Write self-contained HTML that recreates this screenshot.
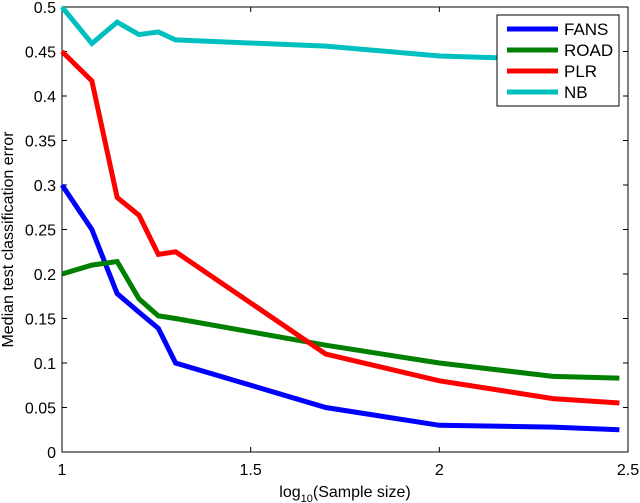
<!DOCTYPE html>
<html><head><meta charset="utf-8"><style>
body{margin:0;background:#fff;}
svg{display:block;font-family:"Liberation Sans",sans-serif;}
</style></head><body>
<svg id="chart" width="640" height="503"></svg>
<script>
const xs=[10,12,14,16,18,20,50,100,200,300];
const fans=[0.3,0.25,0.178,0.157,0.139,0.1,0.05,0.03,0.028,0.025];
const road=[0.2,0.21,0.214,0.172,0.153,0.15,0.12,0.1,0.085,0.083];
const plr=[0.45,0.417,0.286,0.266,0.222,0.225,0.11,0.08,0.06,0.055];
const nb=[0.5,0.459,0.483,0.469,0.472,0.463,0.456,0.445,0.441,0.438];
const xTicks=[1,1.5,2,2.5];
const yTicks=[0,0.05,0.1,0.15,0.2,0.25,0.3,0.35,0.4,0.45,0.5];
const seriesNames=["FANS","ROAD","PLR","NB"];
const seriesColors=["#0000ff","#008000","#ff0000","#00bfbf"];
const L=62,R=628,T=7,B=452;
const X=v=>L+(v-1)/1.5*(R-L);
const Y=v=>B-v/0.5*(B-T);
const svg=document.getElementById('chart');
const NS='http://www.w3.org/2000/svg';
function mk(t,a,p){const e=document.createElementNS(NS,t);for(const k in a)e.setAttribute(k,a[k]);(p||svg).appendChild(e);return e;}
const frame=mk('rect',{x:L,y:T,width:R-L,height:B-T,fill:'none',stroke:'#000','stroke-width':1});


xTicks.forEach(t=>{
 const x=X(t);
 mk('line',{x1:x,y1:B,x2:x,y2:B-5,stroke:'#000'});
 mk('line',{x1:x,y1:T,x2:x,y2:T+5,stroke:'#000'});
 const tx=mk('text',{x:x,y:B+23,'text-anchor':'middle','font-size':16});
 tx.textContent=t;
 
 
});
yTicks.forEach(t=>{
 const y=Y(t);
 mk('line',{x1:L,y1:y,x2:L+5,y2:y,stroke:'#000'});
 mk('line',{x1:R,y1:y,x2:R-5,y2:y,stroke:'#000'});
 const tx=mk('text',{x:L-6,y:y+6,'text-anchor':'end','font-size':16});
 tx.textContent=t;
 
 
});
const xt=mk('text',{x:(L+R)/2,y:497,'text-anchor':'middle','font-size':16});
xt.innerHTML='log<tspan font-size="11" dy="5">10</tspan><tspan dy="-5">(Sample size)</tspan>';


const yt=mk('text',{x:0,y:0,'text-anchor':'middle','font-size':16,transform:`translate(13,${(T+B)/2+10}) rotate(-90)`});
yt.textContent='Median test classification error';


[fans,road,plr,nb].forEach((s,i)=>{
 const pts=s.map((v,j)=>X(Math.log10(xs[j]))+','+Y(v)).join(' ');
 const pl=mk('polyline',{points:pts,fill:'none',stroke:seriesColors[i],'stroke-width':5,'stroke-linejoin':'miter'});
 
 
});
const lg=mk('g',{});


mk('rect',{x:497,y:15,width:122,height:91,fill:'#fff',stroke:'#000'},lg);
seriesNames.forEach((n,i)=>{
 const y=29+i*21;
 mk('line',{x1:507,y1:y,x2:558,y2:y,stroke:seriesColors[i],'stroke-width':5},lg);
 const t=mk('text',{x:564,y:y+6,'font-size':17},lg);
 t.textContent=n;
 
 
});
</script>
</body></html>
